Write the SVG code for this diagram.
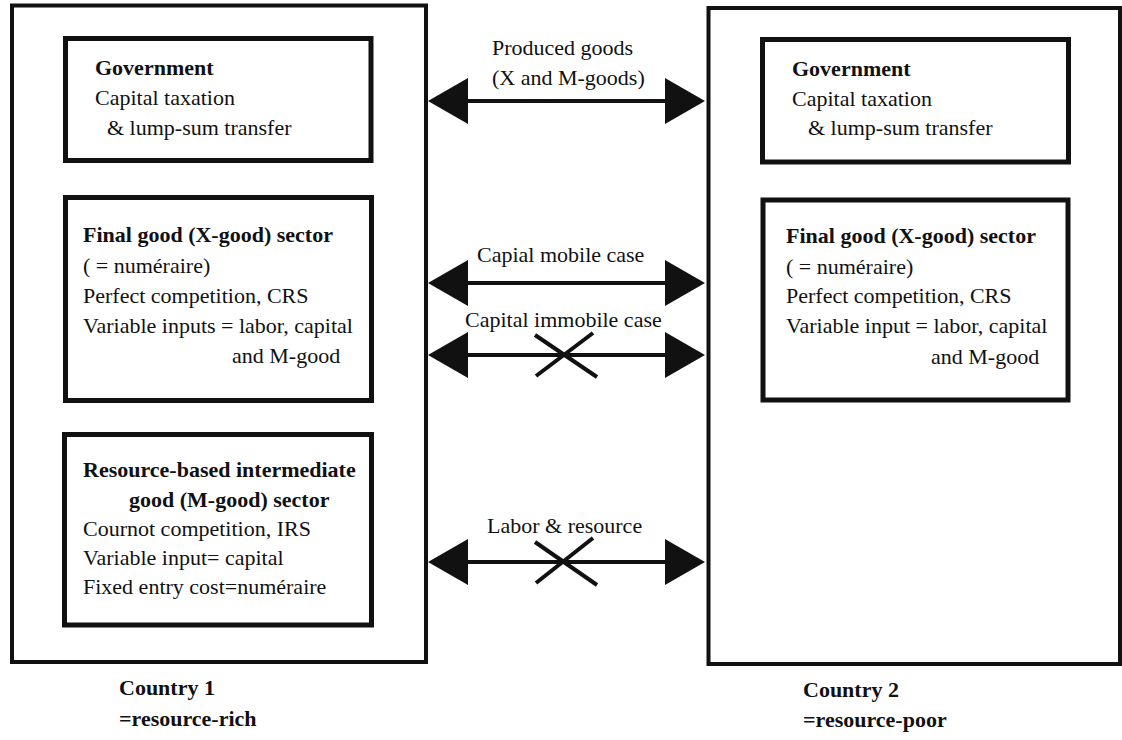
<svg xmlns="http://www.w3.org/2000/svg" width="1122" height="740" viewBox="0 0 1122 740">
<style>
text{font-family:"Liberation Serif","Times New Roman",serif;font-size:22px;fill:#111}
.b{font-weight:bold}
.outer{fill:none;stroke:#111;stroke-width:4}
.box{fill:#fff;stroke:#111;stroke-width:5}
.arr{stroke:#111;stroke-width:4;fill:none}
.x{stroke:#111;stroke-width:4}
</style>
<defs>
<marker id="ah" viewBox="0 0 40 46" refX="28" refY="23" markerWidth="40" markerHeight="46" markerUnits="userSpaceOnUse" orient="auto-start-reverse">
<path d="M0,0 L40,23 L0,46 Z" fill="#111"/>
</marker>
</defs>
<rect width="1122" height="740" fill="#fff"/>
<g id="country1">
<rect class="outer" x="12" y="5.5" width="414" height="656.5"/>
<text class="b" x="119" y="695">Country 1</text>
<text class="b" x="119" y="726">=resource-rich</text>
</g>
<g id="country2">
<rect class="outer" x="708.5" y="8" width="411.5" height="656"/>
<text class="b" x="803" y="697">Country 2</text>
<text class="b" x="803" y="727">=resource-poor</text>
</g>
<g id="gov1">
<rect class="box" x="65.5" y="38.5" width="305.5" height="122"/>
<text class="b" x="95" y="75">Government</text>
<text x="95" y="105">Capital taxation</text>
<text x="107" y="135">&amp; lump-sum transfer</text>
</g>
<g id="final1">
<rect class="box" x="65.5" y="197.5" width="306" height="203"/>
<text class="b" x="83" y="242">Final good (X-good) sector</text>
<text x="83" y="273">( = numéraire)</text>
<text x="83" y="303">Perfect competition, CRS</text>
<text x="83" y="333">Variable inputs = labor, capital</text>
<text x="232" y="363">and M-good</text>
</g>
<g id="resource1">
<rect class="box" x="64.5" y="434.5" width="307" height="190.5"/>
<text class="b" x="83" y="477">Resource-based intermediate</text>
<text class="b" x="129" y="507">good (M-good) sector</text>
<text x="83" y="536">Cournot competition, IRS</text>
<text x="83" y="565">Variable input= capital</text>
<text x="83" y="594">Fixed entry cost=numéraire</text>
</g>
<g id="gov2">
<rect class="box" x="762.5" y="39.5" width="306" height="122.5"/>
<text class="b" x="792" y="76">Government</text>
<text x="792" y="106">Capital taxation</text>
<text x="808" y="135">&amp; lump-sum transfer</text>
</g>
<g id="final2">
<rect class="box" x="763" y="200" width="305" height="200"/>
<text class="b" x="786" y="243">Final good (X-good) sector</text>
<text x="786" y="274">( = numéraire)</text>
<text x="786" y="303">Perfect competition, CRS</text>
<text x="786" y="333">Variable input = labor, capital</text>
<text x="931" y="364">and M-good</text>
</g>
<g id="connectors">
<line class="arr" x1="440" y1="101" x2="693" y2="101" marker-start="url(#ah)" marker-end="url(#ah)"/>
<text x="492" y="55">Produced goods</text>
<text x="492" y="85">(X and M-goods)</text>
<line class="arr" x1="440" y1="283" x2="693" y2="283" marker-start="url(#ah)" marker-end="url(#ah)"/>
<text x="477" y="262">Capial mobile case</text>
<line class="arr" x1="440" y1="355" x2="693" y2="355" marker-start="url(#ah)" marker-end="url(#ah)"/>
<text x="465" y="327">Capital immobile case</text>
<line class="x" x1="535" y1="335" x2="597" y2="377"/>
<line class="x" x1="593" y1="333" x2="536" y2="376"/>
<line class="arr" x1="440" y1="562" x2="693" y2="562" marker-start="url(#ah)" marker-end="url(#ah)"/>
<text x="487" y="533">Labor &amp; resource</text>
<line class="x" x1="535" y1="542" x2="597" y2="585"/>
<line class="x" x1="593" y1="538" x2="536" y2="583"/>
</g>
</svg>
